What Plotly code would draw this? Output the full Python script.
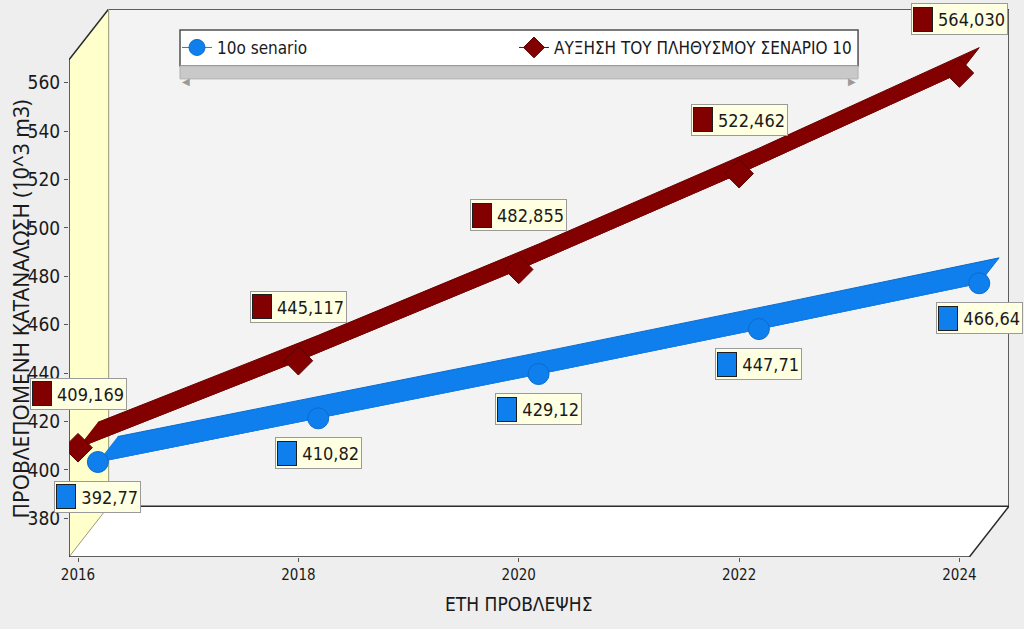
import plotly.graph_objects as go

years = [2016, 2018, 2020, 2022, 2024]
scenario_10 = [392.77, 410.82, 429.12, 447.71, 466.64]
population_10 = [409.169, 445.117, 482.855, 522.462, 564.030]
scenario_labels = ["392,77", "410,82", "429,12", "447,71", "466,64"]
population_labels = ["409,169", "445,117", "482,855", "522,462", "564,030"]

y_ticks = [380, 400, 420, 440, 460, 480, 500, 520, 540, 560]
x_ticks = [2016, 2018, 2020, 2022, 2024]

BLUE = "#0F7FEE"
RED = "#820000"
NARROW = "Liberation Sans Narrow, Arial Narrow, DejaVu Sans Condensed, sans-serif"

# front plane of the fake 3D box (data units)
X0, X1 = 2015.918, 2024.09
Y0, Y1 = 364, 569.5
# one depth row, in data units (x years, y m3); the box is two rows deep
ROW_X = 0.18
ROW_Y = 10.5
BX = X0 + 2 * ROW_X
BY = Y0 + 2 * ROW_Y
BX1 = X1 + 2 * ROW_X
BY1 = Y1 + 2 * ROW_Y


def ribbon(xs, ys, front, back):
    fx = [x + ROW_X * front for x in xs]
    fy = [y + ROW_Y * front for y in ys]
    bx = [x + ROW_X * back for x in xs]
    by = [y + ROW_Y * back for y in ys]
    return fx + bx[::-1], fy + by[::-1]


fig = go.Figure()

# blue series sits one row behind the red one
bx, by = ribbon(years, scenario_10, 1, 2)
fig.add_trace(go.Scatter(x=bx, y=by, fill="toself", fillcolor=BLUE, mode="lines",
                         line=dict(color="#0B6BCB", width=1), showlegend=False, hoverinfo="skip"))
fig.add_trace(go.Scatter(x=[x + ROW_X for x in years], y=[y + ROW_Y for y in scenario_10],
                         name="10o senario", mode="lines+markers", legend="legend",
                         line=dict(color=BLUE, width=1),
                         marker=dict(symbol="circle", size=21, color=BLUE,
                                     line=dict(color="#0B6BCB", width=1))))

rx, ry = ribbon(years, population_10, 0, 1)
fig.add_trace(go.Scatter(x=rx, y=ry, fill="toself", fillcolor=RED, mode="lines",
                         line=dict(color="#6A0000", width=1), showlegend=False, hoverinfo="skip"))
fig.add_trace(go.Scatter(x=years, y=population_10,
                         name="ΑΥΞΗΣΗ ΤΟΥ ΠΛΗΘΥΣΜΟΥ ΣΕΝΑΡΙΟ 10", mode="lines+markers",
                         legend="legend2",
                         line=dict(color=RED, width=1),
                         marker=dict(symbol="diamond", size=22, color=RED,
                                     line=dict(color="#5A0000", width=1))))

# axis titles, centred on the front plane rather than the whole plot area
fig.add_annotation(x=-0.0511, y=0.4536, xref="paper", yref="paper", showarrow=False,
                   xanchor="center", yanchor="middle",
                   textangle=-90, text="ΠΡΟΒΛΕΠΟΜΕΝΗ ΚΑΤΑΝΑΛΩΣΗ (10^3 m3)",
                   font=dict(family="Noto Sans, DejaVu Sans, sans-serif", size=21,
                             color="#1A1A1A"))
fig.add_annotation(x=0.4777, y=-0.0856, xref="paper", yref="paper", showarrow=False,
                   xanchor="center", yanchor="middle",
                   text="ΕΤΗ ΠΡΟΒΛΕΨΗΣ",
                   font=dict(family=NARROW, size=19, color="#1A1A1A"))


def label(x, y, text, color, shift, w):
    fig.add_annotation(x=x, y=y, xref="x", yref="y", showarrow=False, yshift=shift,
                       text=text, align="right", width=w, height=26,
                       font=dict(family=NARROW, size=18, color="#1A1A1A"),
                       bgcolor="#FFFFE1", bordercolor="#9A9A9A", borderwidth=1, borderpad=2)
    fig.add_annotation(x=x, y=y, xref="x", yref="y", showarrow=False,
                       yshift=shift, xshift=-w / 2 + 9, text=" ", width=18, height=23,
                       bgcolor=color, bordercolor="#1E1E1E", borderwidth=1, borderpad=0)


for x, y, t in zip(years, population_10, population_labels):
    label(x, y, t, RED, 54, 91)
for x, y, t in zip(years, scenario_10, scenario_labels):
    label(x + ROW_X, y + ROW_Y, t, BLUE, -35, 81)

edge = dict(color="#2B2B2B", width=1.5)
thin = dict(color="#9A9A7A", width=1)
fig.update_layout(shapes=[
    # back wall
    dict(type="rect", x0=BX, x1=BX1, y0=BY, y1=BY1,
         fillcolor="#F3F3F3", line=dict(width=0), layer="below"),
    # left wall
    dict(type="path", path=f"M {X0},{Y0} L {X0},{Y1} L {BX},{BY1} L {BX},{BY} Z",
         fillcolor="#FFFFCC", line=dict(width=0), layer="below"),
    # floor
    dict(type="path", path=f"M {X0},{Y0} L {X1},{Y0} L {BX1},{BY} L {BX},{BY} Z",
         fillcolor="#FFFFFF", line=dict(width=0), layer="below"),
    dict(type="path", path=f"M {BX},{BY1} L {BX1},{BY1} L {BX1},{BY} L {BX},{BY}",
         line=edge, layer="below"),
    dict(type="path", path=f"M {X0},{Y1} L {BX},{BY1} M {X1},{Y0} L {BX1},{BY}",
         line=edge, layer="below"),
    dict(type="path", path=f"M {BX},{BY1} L {BX},{BY} M {X0},{Y0} L {BX},{BY}",
         line=thin, layer="below"),
    # front axis lines
    dict(type="path", path=f"M {X0},{Y1} L {X0},{Y0} L {X1},{Y0}", line=edge),
    # legend box and its scroll bar
    dict(type="rect", xref="paper", yref="paper", x0=0.1181, x1=0.8394, y0=0.8962, y1=0.9617,
         fillcolor="#FFFFFF", line=dict(color="#505050", width=1.5), layer="above"),
    dict(type="rect", xref="paper", yref="paper", x0=0.1181, x1=0.8394, y0=0.8725, y1=0.8962,
         fillcolor="#C9C9C9", line=dict(color="#AFAFAF", width=1), layer="above"),
])
fig.add_annotation(x=0.1181, y=0.8843, xref="paper", yref="paper", xanchor="left",
                   showarrow=False, text="◀", font=dict(size=10, color="#9A9A9A"))
fig.add_annotation(x=0.8394, y=0.8843, xref="paper", yref="paper", xanchor="right",
                   showarrow=False, text="▶", font=dict(size=10, color="#9A9A9A"))

legend_style = dict(orientation="h", y=0.929, xanchor="left", yanchor="middle",
                    bgcolor="rgba(0,0,0,0)",
                    font=dict(family=NARROW, size=17, color="#1A1A1A"))
fig.update_layout(
    width=1024, height=629,
    margin=dict(l=69, r=15, t=9, b=72, autoexpand=False),
    paper_bgcolor="#EEEEEE", plot_bgcolor="rgba(0,0,0,0)",
    showlegend=True,
    legend=dict(x=0.1149, **legend_style),
    legend2=dict(x=0.4734, **legend_style),
)
fig.update_xaxes(range=[X0, BX1], tickvals=x_ticks, showgrid=False, zeroline=False,
                 showline=False, automargin=False,
                 ticks="outside", ticklen=4, tickcolor="#555555",
                 tickfont=dict(family=NARROW, size=15, color="#1A1A1A"))
fig.update_yaxes(range=[Y0, BY1], tickvals=y_ticks, showgrid=False, zeroline=False,
                 showline=False, automargin=False,
                 ticks="outside", ticklen=4, tickcolor="#555555",
                 tickfont=dict(family=NARROW, size=19, color="#1A1A1A"))

# drop the browser's default page margin so the figure starts at the window corner
fig.write_html("out.html", config={"displayModeBar": False},
               post_script="document.body.style.margin='0';"
                           "document.body.style.background='#EEEEEE';")
